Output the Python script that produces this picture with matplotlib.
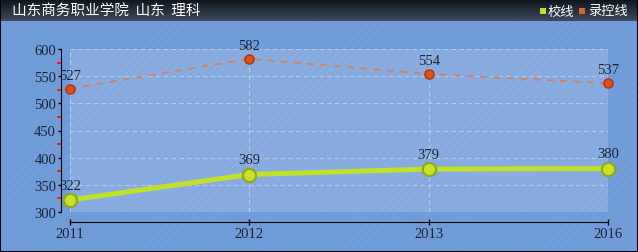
import matplotlib
matplotlib.use("Agg")
import matplotlib.pyplot as plt
import numpy as np
from matplotlib.patches import Rectangle
from matplotlib.ticker import FixedLocator, NullFormatter
from matplotlib.colors import LinearSegmentedColormap

years = ["2011", "2012", "2013", "2016"]
school_line = [322, 369, 379, 380]      # 校线
control_line = [527, 582, 554, 537]     # 录控线
y_ticks = [300, 350, 400, 450, 500, 550, 600]
y_minor = [325, 375, 425, 475, 525, 575]
title = "山东商务职业学院 山东 理科"
legend_names = ["校线", "录控线"]

serif = "Liberation Serif"
plt.rcParams["font.family"] = [serif, "DejaVu Serif"]
plt.rcParams["hatch.linewidth"] = 0.5

W, H = 638, 253
fig = plt.figure(figsize=(W / 100, H / 100), dpi=100)
fig.patch.set_facecolor("#6f9bd8")

# background with subtle diagonal texture
bg = fig.add_axes([0, 0, 1, 1], zorder=-5)
bg.set_axis_off()
bg.add_patch(Rectangle((0, 0), 1, 1, transform=bg.transAxes, facecolor="#6f9bd8",
                       edgecolor="#7aa3db", hatch="////", linewidth=0))

# title bar
tb_h = 22
tax = fig.add_axes([0, 1 - tb_h / H, 1, tb_h / H], zorder=-1)
grad = np.linspace(0, 1, 50).reshape(-1, 1)
cm = LinearSegmentedColormap.from_list("tb", ["#0e141c", "#3d4b5c"])
tax.imshow(grad, aspect="auto", cmap=cm, extent=[0, 1, 0, 1])
tax.set_axis_off()
cjk = ["Noto Sans CJK SC", "DejaVu Sans"]
fig.text(12 / W, 1 - 11 / H, title.replace(" ", "  "), color="white", fontsize=10.5,
         va="center", ha="left", family=cjk)

# legend
green, orange = "#c2df2c", "#e0602a"
fig.patches.append(Rectangle((540 / W, 1 - 15 / H), 6 / W, 6 / H, transform=fig.transFigure,
                             facecolor=green, edgecolor="none"))
fig.text(548 / W, 1 - 12 / H, legend_names[0], color="white", fontsize=9.5, va="center",
         family=cjk)
fig.patches.append(Rectangle((579 / W, 1 - 15 / H), 6 / W, 6 / H, transform=fig.transFigure,
                             facecolor=orange, edgecolor="none"))
fig.text(588 / W, 1 - 12 / H, legend_names[1], color="white", fontsize=9.5, va="center",
         family=cjk)

# main axes
x0, x1, ytop, ybot = 70, 608, 50, 213
ax = fig.add_axes([x0 / W, 1 - ybot / H, (x1 - x0) / W, (ybot - ytop) / H])
ax.set_facecolor((1, 1, 1, 0.17))
x = np.arange(len(years))
ax.set_xlim(0, len(years) - 1)
ax.set_ylim(300, 600)

ax.plot(x, control_line, color="#e07a58", lw=1.2, ls=(0, (4, 4)), zorder=3,
        marker="o", ms=6.5, mfc="#e0501c", mec="#b23a12", mew=1.2, clip_on=False)
ax.plot(x, school_line, color=green, lw=3.6, zorder=4, solid_capstyle="round",
        marker="o", ms=9.5, mfc="#c8e22a", mec="#8caa18", mew=1.5, clip_on=False)

tc = "#1a2433"
for xi, v in zip(x, control_line):
    ax.annotate(str(v), (xi, v), xytext=(0, 5), textcoords="offset points", ha="center",
                va="bottom", fontsize=10.5, color=tc, zorder=6, annotation_clip=False)
for xi, v in zip(x, school_line):
    ax.annotate(str(v), (xi, v), xytext=(0, 6), textcoords="offset points", ha="center",
                va="bottom", fontsize=10.5, color=tc, zorder=6, annotation_clip=False)

for s in ["top", "right"]:
    ax.spines[s].set_visible(False)
ax.spines["left"].set_position(("outward", 6.5))
ax.spines["bottom"].set_position(("outward", 7.2))
ax.spines["left"].set_color("black")
ax.spines["bottom"].set_color("black")

ax.set_xticks(x, years)
ax.set_yticks(y_ticks, [str(t) for t in y_ticks])
ax.yaxis.set_minor_locator(FixedLocator(y_minor))
ax.yaxis.set_minor_formatter(NullFormatter())

ax.tick_params(axis="y", which="major", direction="out", length=2.5, width=1, color="black",
               pad=1, labelsize=10.5, labelcolor=tc)
ax.tick_params(axis="y", which="minor", direction="out", length=3, width=1.3, color="#ff1010")
ax.tick_params(axis="x", which="major", direction="inout", length=5, width=1, color="black",
               pad=1, labelsize=10.5, labelcolor=tc)

ax.grid(True, which="major", color="white", alpha=0.4, ls=(0, (4, 3)), lw=0.8)
ax.set_axisbelow(True)

# figure border
fig.patches.append(Rectangle((0, 0), 1, 1, transform=fig.transFigure, facecolor="none",
                             edgecolor="black", linewidth=1.5, zorder=10))

fig.savefig("out.png", dpi=100, facecolor=fig.get_facecolor())
